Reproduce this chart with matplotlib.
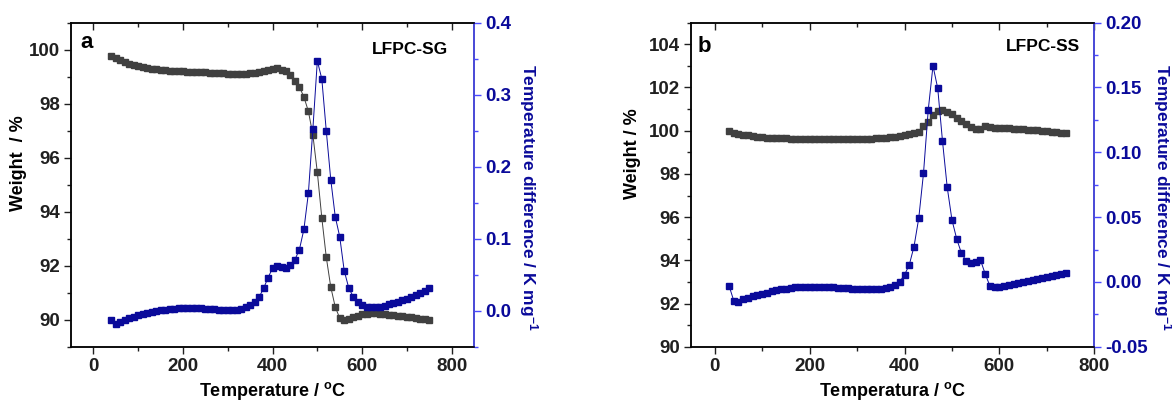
import numpy as np
import matplotlib
matplotlib.use("Agg")
import matplotlib.pyplot as plt
from matplotlib.ticker import MultipleLocator

plt.rcParams['font.family'] = ['Liberation Sans', 'DejaVu Sans']
plt.rcParams['font.weight'] = 'bold'
plt.rcParams['mathtext.fontset'] = 'custom'
plt.rcParams['mathtext.rm'] = 'Liberation Sans:bold'
plt.rcParams['mathtext.bf'] = 'Liberation Sans:bold'
plt.rcParams['mathtext.it'] = 'Liberation Sans:bold'

GREY = '#404040'
NAVY = '#0a0a9a'
SPINE_BLUE = '#4a4aff'

# ---- panel a : LFPC-SG ----
temp_sg = [40, 50, 60, 70, 80, 90, 100, 110, 120, 130, 140, 150, 160, 170, 180, 190, 200,
           210, 220, 230, 240, 250, 260, 270, 280, 290, 300, 310, 320, 330, 340, 350, 360,
           370, 380, 390, 400, 410, 420, 430, 440, 450, 460, 470, 480, 490, 500, 510, 520,
           530, 540, 550, 560, 570, 580, 590, 600, 610, 620, 630, 640, 650, 660, 670, 680,
           690, 700, 710, 720, 730, 740, 750]
weight_sg = [99.75, 99.68, 99.6, 99.54, 99.48, 99.43, 99.38, 99.35, 99.32, 99.29, 99.27, 99.25,
             99.23, 99.22, 99.21, 99.2, 99.2, 99.19, 99.18, 99.17, 99.17, 99.16, 99.15, 99.14,
             99.13, 99.12, 99.11, 99.1, 99.09, 99.09, 99.11, 99.13, 99.15, 99.18, 99.21, 99.25,
             99.28, 99.31, 99.26, 99.2, 99.05, 98.85, 98.62, 98.25, 97.72, 96.85, 95.46, 93.77,
             92.31, 91.21, 90.47, 90.06, 89.99, 90.04, 90.09, 90.15, 90.2, 90.22, 90.23, 90.23,
             90.22, 90.21, 90.19, 90.17, 90.15, 90.13, 90.11, 90.09, 90.06, 90.04, 90.01, 89.99]
dta_sg = [-0.013, -0.0185, -0.016, -0.013, -0.0106, -0.0083, -0.0065, -0.0048, -0.0032, -0.0018,
          -0.0005, 0.0005, 0.0014, 0.0021, 0.0028, 0.0033, 0.0037, 0.0038, 0.0037, 0.0035, 0.0032,
          0.0028, 0.0023, 0.0018, 0.0014, 0.0011, 0.0009, 0.0009, 0.0014, 0.0028, 0.0046, 0.008,
          0.0125, 0.019, 0.031, 0.046, 0.059, 0.0625, 0.061, 0.06, 0.063, 0.071, 0.085, 0.113,
          0.163, 0.252, 0.347, 0.322, 0.2495, 0.182, 0.1306, 0.1028, 0.0556, 0.032, 0.0194, 0.012,
          0.0079, 0.0056, 0.0046, 0.0046, 0.0056, 0.007, 0.0088, 0.0106, 0.0125, 0.0146, 0.0167,
          0.019, 0.0213, 0.024, 0.0273, 0.032]

# ---- panel b : LFPC-SS ----
temp_ss = [30, 40, 50, 60, 70, 80, 90, 100, 110, 120, 130, 140, 150, 160, 170, 180, 190, 200,
           210, 220, 230, 240, 250, 260, 270, 280, 290, 300, 310, 320, 330, 340, 350, 360, 370,
           380, 390, 400, 410, 420, 430, 440, 450, 460, 470, 480, 490, 500, 510, 520, 530, 540,
           550, 560, 570, 580, 590, 600, 610, 620, 630, 640, 650, 660, 670, 680, 690, 700, 710,
           720, 730, 740]
weight_ss = [99.97, 99.91, 99.86, 99.82, 99.78, 99.74, 99.72, 99.7, 99.68, 99.67, 99.65, 99.64,
             99.64, 99.63, 99.63, 99.62, 99.62, 99.62, 99.62, 99.62, 99.62, 99.62, 99.62, 99.62,
             99.62, 99.62, 99.62, 99.62, 99.62, 99.63, 99.63, 99.64, 99.65, 99.67, 99.7, 99.73,
             99.76, 99.79, 99.83, 99.88, 99.94, 100.2, 100.4, 100.72, 100.92, 100.95, 100.87,
             100.79, 100.6, 100.45, 100.3, 100.18, 100.07, 100.1, 100.24, 100.15, 100.14, 100.13,
             100.13, 100.13, 100.1, 100.07, 100.06, 100.05, 100.04, 100.02, 100.0, 99.97, 99.95,
             99.93, 99.91, 99.9]
dta_ss = [-0.0028, -0.0144, -0.0157, -0.0134, -0.0121, -0.011, -0.0101, -0.0093, -0.0082, -0.0072,
          -0.0064, -0.0057, -0.0051, -0.0046, -0.0043, -0.0041, -0.004, -0.0039, -0.0039, -0.0039,
          -0.004, -0.0041, -0.0042, -0.0044, -0.0046, -0.0049, -0.0052, -0.0054, -0.0056, -0.0057,
          -0.0056, -0.0054, -0.0051, -0.0046, -0.0036, -0.0023, 0.0003, 0.0054, 0.0131, 0.0273,
          0.0491, 0.0838, 0.1327, 0.1667, 0.1494, 0.1088, 0.073, 0.0478, 0.0332, 0.0221, 0.0162,
          0.0144, 0.0152, 0.017, 0.0062, -0.0031, -0.0041, -0.0036, -0.0031, -0.0026, -0.0018,
          -0.001, -0.0002, 0.0005, 0.0013, 0.0021, 0.0029, 0.0036, 0.0045, 0.0054, 0.0061, 0.0067]


def style_panel(ax, axr, xlim, ylim, yrlim, ystep, yrstep, yrfmt):
    ax.set_xlim(*xlim)
    ax.set_ylim(*ylim)
    axr.set_ylim(*yrlim)
    ax.xaxis.set_major_locator(MultipleLocator(200))
    ax.xaxis.set_minor_locator(MultipleLocator(100))
    ax.yaxis.set_major_locator(MultipleLocator(ystep))
    ax.yaxis.set_minor_locator(MultipleLocator(ystep / 2))
    axr.yaxis.set_major_locator(MultipleLocator(yrstep))
    axr.yaxis.set_minor_locator(MultipleLocator(yrstep / 2))
    axr.yaxis.set_major_formatter(plt.FormatStrFormatter(yrfmt))
    for s in ax.spines.values():
        s.set_linewidth(1.1)
        s.set_color('#202020')
    for s in axr.spines.values():
        s.set_linewidth(1.1)
    axr.spines['right'].set_color(SPINE_BLUE)
    ax.tick_params(axis='both', which='both', direction='out', labelsize=13.5, width=1.0,
                   top=True, right=False, colors='#202020', pad=3)
    ax.tick_params(axis='x', which='major', length=5)
    ax.tick_params(axis='x', which='minor', length=3)
    ax.tick_params(axis='y', which='major', length=5)
    ax.tick_params(axis='y', which='minor', length=3)
    ax.xaxis.set_tick_params(which='both', top=True, labeltop=False)
    # top ticks point inwards
    for t in ax.xaxis.get_major_ticks() + ax.xaxis.get_minor_ticks():
        t.tick2line.set_marker(3)
    axr.tick_params(axis='y', which='both', direction='out', labelsize=13.5, width=1.0,
                    color=SPINE_BLUE, labelcolor=NAVY, pad=3)
    axr.tick_params(axis='y', which='major', length=5)
    axr.tick_params(axis='y', which='minor', length=3)
    for lab in ax.get_xticklabels() + ax.get_yticklabels() + axr.get_yticklabels():
        lab.set_fontweight('bold')


fig = plt.figure(figsize=(11.72, 4.01), dpi=100)

ax1 = fig.add_axes([0.0606, 0.1354, 0.3439, 0.808])
ax1r = ax1.twinx()
ax1.plot(temp_sg, weight_sg, color=GREY, lw=0.7, marker='s', ms=3.9, mec=GREY, mfc=GREY)
ax1r.plot(temp_sg, dta_sg, color=NAVY, lw=0.7, marker='s', ms=3.9, mec=NAVY, mfc=NAVY)
style_panel(ax1, ax1r, (-50, 850), (89, 101), (-0.05, 0.4), 2, 0.1, '%.1f')
ax1.set_xlabel('Temperature / $^{\\mathrm{o}}$C', fontsize=13, fontweight='bold', labelpad=4)
ax1.set_ylabel('Weight  / %', fontsize=13, fontweight='bold')
ax1.yaxis.set_label_coords(-0.108, 0.566)
ax1r.set_ylabel('Temperature difference / K mg$^{-1}$', fontsize=12.5, fontweight='bold',
                color=NAVY, rotation=270, va='center')
ax1r.yaxis.set_label_coords(1.134, 0.46)
ax1.text(0.038, 0.938, 'a', transform=ax1.transAxes, fontsize=16, fontweight='bold',
         ha='center', va='center')
ax1.text(0.935, 0.916, 'LFPC-SG', transform=ax1.transAxes, fontsize=12.5, fontweight='bold',
         ha='right', va='center')

ax2 = fig.add_axes([0.5896, 0.1354, 0.3441, 0.808])
ax2r = ax2.twinx()
ax2.plot(temp_ss, weight_ss, color=GREY, lw=0.7, marker='s', ms=3.9, mec=GREY, mfc=GREY)
ax2r.plot(temp_ss, dta_ss, color=NAVY, lw=0.7, marker='s', ms=3.9, mec=NAVY, mfc=NAVY)
style_panel(ax2, ax2r, (-50, 800), (90, 105), (-0.05, 0.2), 2, 0.05, '%.2f')
ax2.yaxis.set_minor_locator(MultipleLocator(1))
ax2r.yaxis.set_minor_locator(MultipleLocator(0.025))
ax2.set_xlabel('Temperatura / $^{\\mathrm{o}}$C', fontsize=13, fontweight='bold', labelpad=4)
ax2.set_ylabel('Weight / %', fontsize=13, fontweight='bold')
ax2.yaxis.set_label_coords(-0.124, 0.595)
ax2r.set_ylabel('Temperature difference / K mg$^{-1}$', fontsize=12.5, fontweight='bold',
                color=NAVY, rotation=270, va='center')
ax2r.yaxis.set_label_coords(1.17, 0.46)
ax2.text(0.034, 0.928, 'b', transform=ax2.transAxes, fontsize=16, fontweight='bold',
         ha='center', va='center')
ax2.text(0.964, 0.926, 'LFPC-SS', transform=ax2.transAxes, fontsize=12.5, fontweight='bold',
         ha='right', va='center')

fig.savefig('out.png', dpi=100)
